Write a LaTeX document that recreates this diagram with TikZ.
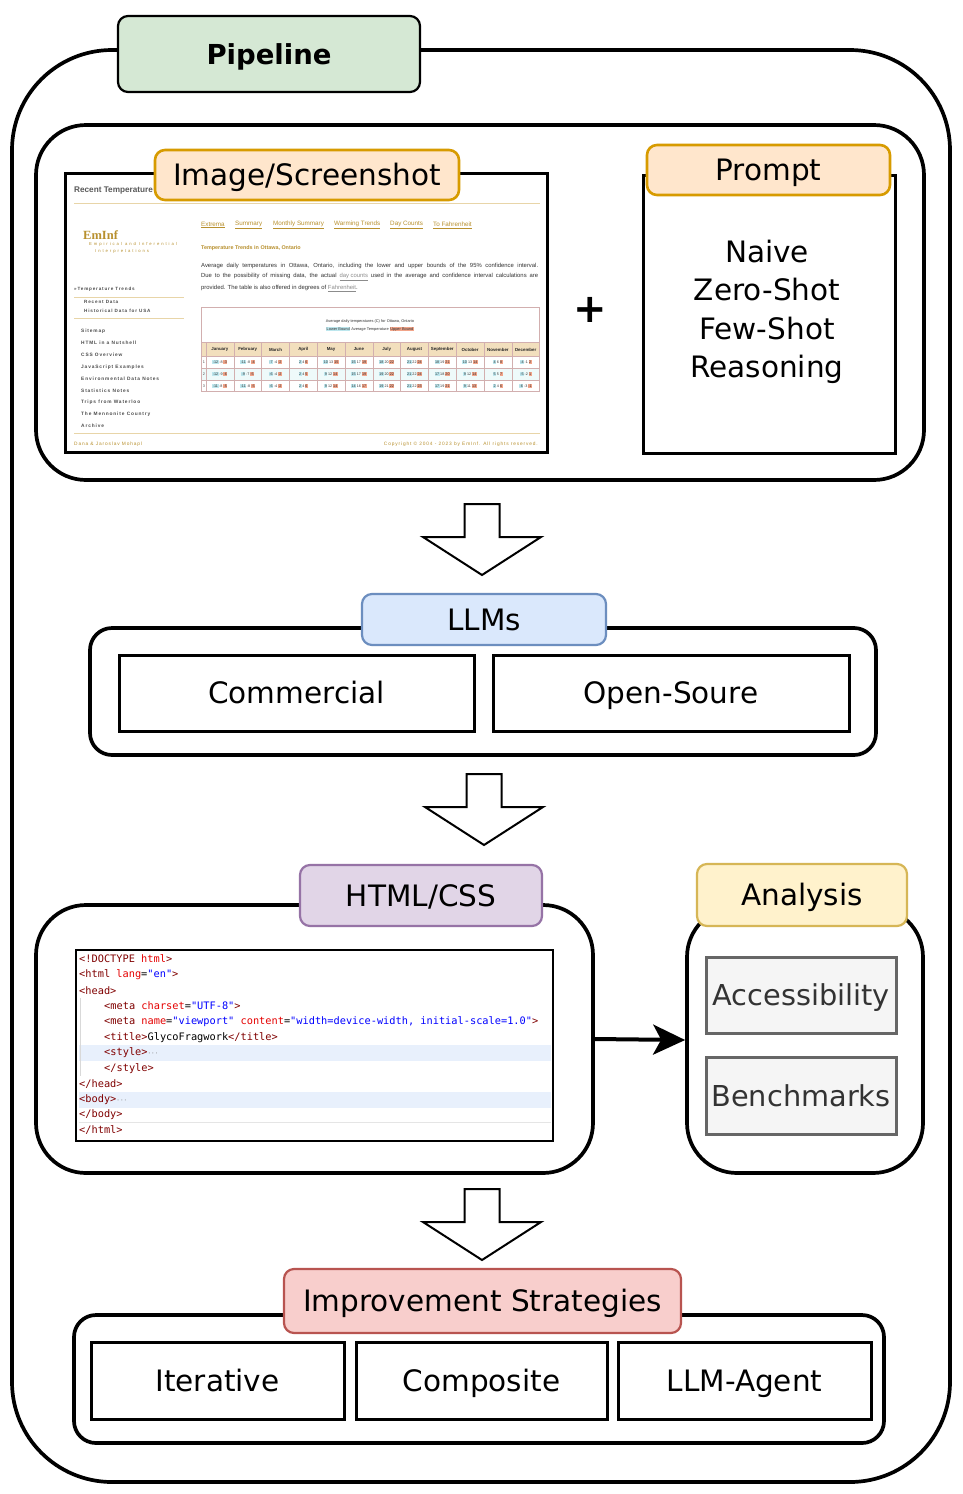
\documentclass[tikz,border=0pt]{standalone}
\usepackage{fontspec}
\setmainfont{DejaVu Sans}
\newfontfamily\shotsans{Liberation Sans}
\newfontfamily\shotspaced[LetterSpace=18]{Liberation Sans}
\newfontfamily\shotwide[LetterSpace=46]{Liberation Sans}
\newfontfamily\shotserif{Liberation Serif}
\newfontfamily\codefont{DejaVu Sans Mono}
\usetikzlibrary{arrows.meta}
\setlength{\fboxsep}{0.5pt}
\definecolor{pipefill}{HTML}{D5E8D4}
\definecolor{orfill}{HTML}{FFE6CC}\definecolor{ordraw}{HTML}{D79B00}
\definecolor{blfill}{HTML}{DAE8FC}\definecolor{bldraw}{HTML}{6C8EBF}
\definecolor{pufill}{HTML}{E1D5E7}\definecolor{pudraw}{HTML}{9673A6}
\definecolor{yefill}{HTML}{FFF2CC}\definecolor{yedraw}{HTML}{D6B656}
\definecolor{refill}{HTML}{F8CECC}\definecolor{redraw}{HTML}{B85450}
\definecolor{grfill}{HTML}{F5F5F5}\definecolor{grdraw}{HTML}{666666}\definecolor{grtext}{HTML}{333333}
\definecolor{gold}{HTML}{B8902E}
\definecolor{tanline}{HTML}{E8D5A8}
\definecolor{tagc}{HTML}{800000}
\definecolor{attrc}{HTML}{E50000}
\definecolor{valc}{HTML}{0000FF}
\definecolor{hl}{HTML}{E8F0FC}
\definecolor{locell}{HTML}{BDE7EE}
\definecolor{hicell}{HTML}{F2A58A}
\definecolor{thead}{HTML}{F2DFBD}
\definecolor{tline}{HTML}{D2AFAF}
\definecolor{rowcyan}{HTML}{EEFAFA}
\newcommand{\ctag}[1]{\textcolor{tagc}{#1}}
\newcommand{\cattr}[1]{\textcolor{attrc}{#1}}
\newcommand{\cval}[1]{\textcolor{valc}{#1}}
\newcommand{\mainlbl}{\fontsize{29.5}{34}\selectfont}
\begin{document}
\begin{tikzpicture}[x=1pt,y=-1pt,
  sz/.style 2 args={minimum width=#1pt, minimum height=#2pt},
  ctn/.style={draw=black, line width=3.7pt, fill=white, inner sep=0pt, rounded corners=#1},
  fixtext/.style={text height=26pt, text depth=5pt},
  plainbox/.style={draw=black, line width=3pt, fill=white, inner sep=0pt, font=\mainlbl, fixtext},
  tagbox/.style={rounded corners=10pt, line width=2.2pt, inner sep=0pt, font=\mainlbl, fixtext},
  grbox/.style={draw=grdraw, fill=grfill, line width=3pt, text=grtext, inner sep=0pt, font=\fontsize{28.8}{34}\selectfont, fixtext},
  blockarr/.style={draw=black, line width=2pt, fill=white, line join=miter},
  codeline/.style={anchor=west, inner sep=0pt, font=\codefont\fontsize{10.3}{12}\selectfont},
  tiny/.style={inner sep=0pt, font=\shotsans\fontsize{#1}{#1}\selectfont},
  tinyb/.style={inner sep=0pt, font=\shotsans\bfseries\fontsize{#1}{#1}\selectfont},
  spaced/.style={inner sep=0pt, anchor=west, font=\shotspaced\bfseries\fontsize{#1}{#1}\selectfont, text=black!70},
  downarr/.pic={\draw[blockarr] (-17.5,0) -- (17.5,0) -- (17.5,33) -- (59,33) -- (0,71) -- (-59,33) -- (-17.5,33) -- cycle;}
]
\useasboundingbox (0,0) rectangle (962,1494);
\fill[white] (0,0) rectangle (962,1494);

% outer pipeline container
\node[ctn=100pt, sz={938}{1432}] (outer) at (481,766) {};
\node[tagbox, draw=black, fill=pipefill, sz={302}{76}, font=\bfseries\fontsize{27.5}{32}\selectfont] (pipe) at (269,54) {Pipeline};

% top section
\node[ctn=50pt, sz={888}{355}] (top) at (480,302.5) {};
\node[draw=black, line width=3pt, fill=white, sz={482}{279}, inner sep=0pt] (shot) at (306,312.5) {};
\begin{scope}
\clip (67,175) rectangle (545,450);
\node[tinyb=8.2, anchor=west, text=black!65] (sh-head) at (74,190) {Recent Temperature Trends};
\draw[tanline, line width=0.7pt] (74,203) -- (540,203);
\node[inner sep=0pt, anchor=west, text=gold, font=\shotserif\bfseries\fontsize{12.5}{13}\selectfont] (sh-logo) at (83,235) {EmInf};
\node[inner sep=0pt, anchor=west, text=gold, font=\shotwide\fontsize{4.2}{4.5}\selectfont] (sh-sub1) at (89,244.5) {Empirical and Inferential};
\node[inner sep=0pt, anchor=west, text=gold, font=\shotwide\fontsize{4.2}{4.5}\selectfont] (sh-sub2) at (95,251) {Interpretations};
\foreach \t/\xx [count=\k] in {Extrema/201, Summary/235, Monthly Summary/273, Warming Trends/334, Day Counts/390, To Fahrenheit/433}
  \node[tiny=6.3, anchor=west, text=gold] (sh-nav\k) at (\xx,225) {\underline{\t}};
\node[tinyb=5.4, anchor=west, text=gold] (sh-h1) at (201,248) {Temperature Trends in Ottawa, Ontario};
\node[tiny=5.9, anchor=west, text=black!80] (sh-p1) at (201,265.5) {\makebox[337pt][s]{Average daily temperatures in Ottawa, Ontario, including the lower and upper bounds of the 95\% confidence interval.}};
\node[tiny=5.9, anchor=west, text=black!80] (sh-p2) at (201,277) {\makebox[337pt][s]{Due to the possibility of missing data, the actual \textcolor{black!45}{\underline{day counts}} used in the average and confidence interval calculations are}};
\node[tiny=5.9, anchor=west, text=black!80] (sh-p3) at (201,288.5) {provided. The table is also offered in degrees of \textcolor{black!45}{\underline{Fahrenheit}}.};
% table
\draw[tline, line width=0.6pt] (201.5,307) rectangle (539.5,391.5);
\node[tiny=3.9, text=black!80] (sh-cap) at (370,321) {Average daily temperatures (C) for Ottawa, Ontario};
\node[tiny=3.9, text=black!80] (sh-leg) at (370,329) {\colorbox{locell}{Lower Bound} Average Temperature \colorbox{hicell}{Upper Bound}};
\fill[thead] (201.5,342.5) rectangle (539.5,356);
\fill[rowcyan] (201.5,368) rectangle (539.5,380);
\foreach \yy in {342.5,356,368,380} \draw[tline, line width=0.5pt] (201.5,\yy) -- (539.5,\yy);
\foreach \i in {0,...,12} \draw[tline, line width=0.5pt] ({206+\i*27.8},342.5) -- ({206+\i*27.8},391.5);
\foreach \m [count=\i] in {January,February,March,April,May,June,July,August,September,October,November,December}
  \node[tinyb=4.4, text=black!85] (sh-m\i) at ({206+(\i-0.5)*27.8},349.5) {\m};
\foreach \r/\yy in {1/362,2/374,3/386}
  \node[tiny=3.8, text=black!70] (sh-r\r) at (204,\yy) {\r};
\foreach \lo/\av/\hi [count=\i] in {-12/-8/-3,-11/-8/-4,-7/-4/-2,2/4/6,10/13/15,15/17/19,18/20/22,21/22/24,18/19/21,10/13/14,4/6/8,-4/-1/2}
  \node[tiny=3.7, text=black!80] (sh-a\i) at ({206+(\i-0.5)*27.8},362) {\colorbox{locell}{\lo}\,\av\,\colorbox{hicell}{\hi}};
\foreach \lo/\av/\hi [count=\i] in {-12/-9/-6,-9/-7/-5,-6/-4/-2,2/4/5,9/12/14,15/17/19,19/20/22,21/22/24,17/18/20,9/12/14,5/5/7,-5/-2/1}
  \node[tiny=3.7, text=black!80] (sh-b\i) at ({206+(\i-0.5)*27.8},374) {\colorbox{locell}{\lo}\,\av\,\colorbox{hicell}{\hi}};
\foreach \lo/\av/\hi [count=\i] in {-11/-8/-5,-11/-8/-5,-6/-4/-2,2/4/6,9/12/14,14/16/17,19/21/22,21/22/23,17/19/21,9/11/13,2/4/6,-6/-3/-1}
  \node[tiny=3.7, text=black!80] (sh-c\i) at ({206+(\i-0.5)*27.8},386) {\colorbox{locell}{\lo}\,\av\,\colorbox{hicell}{\hi}};
% sidebar
\node[spaced=4.6] (sh-s0) at (74,289) {»Temperature Trends};
\draw[tanline, line width=0.7pt] (74,297.5) -- (184,297.5);
\node[spaced=4.6] (sh-s1) at (84,302) {Recent Data};
\node[spaced=4.6] (sh-s2) at (84,311) {Historical Data for USA};
\draw[tanline, line width=0.7pt] (74,318) -- (184,318);
\foreach \t/\yy [count=\k] in {Sitemap/331, HTML in a Nutshell/343, CSS Overview/355, JavaScript Examples/367, Environmental Data Notes/379, Statistics Notes/391, Trips from Waterloo/402.7, The Mennonite Country/414.3, Archive/426}
  \node[spaced=4.8] (sh-side\k) at (81,\yy) {\t};
% footer
\draw[tanline, line width=0.7pt] (74,433) -- (540,433);
\node[inner sep=0pt, anchor=west, text=gold, font=\shotspaced\fontsize{4.8}{5}\selectfont] (sh-f1) at (74,444) {Dana \& Jaroslav Mohapl};
\node[inner sep=0pt, anchor=east, text=gold, font=\shotspaced\fontsize{4.8}{5}\selectfont] (sh-f2) at (538,444) {Copyright © 2004 - 2023 by EmInf. All rights reserved.};
\end{scope}
\node[tagbox, draw=ordraw, fill=orfill, line width=2.6pt, sz={304}{50}] (imglbl) at (307,175) {Image/Screenshot};

\node[font=\bfseries\fontsize{40}{40}\selectfont] (plus) at (590,310) {+};

\node[plainbox, sz={252}{278}] (prompt) at (769,314) {};
\node[align=center, inner sep=0pt, font=\fontsize{29.5}{38.5}\selectfont] (ptext) at (767,312) {Naive\\Zero-Shot\\Few-Shot\\Reasoning};
\node[tagbox, draw=ordraw, fill=orfill, line width=2.6pt, sz={243}{50}] (plbl) at (768.5,170) {Prompt};

% arrow 1
\pic at (482,504) {downarr};

% LLMs
\node[ctn=22pt, sz={786}{127}] (llmc) at (483,691.5) {};
\node[plainbox, sz={355}{76}] (comm) at (296.5,693) {Commercial};
\node[plainbox, sz={356}{76}] (open) at (671,693) {Open-Soure};
\node[tagbox, draw=bldraw, fill=blfill, sz={244}{51}] (llmlbl) at (484,619.5) {LLMs};

% arrow 2
\pic at (484,774) {downarr};

% HTML/CSS
\node[ctn=50pt, sz={557}{268}] (htmlc) at (314.5,1039) {};
\node[draw=black, line width=2.5pt, fill=white, sz={477}{191}, inner sep=0pt] (code) at (314.5,1045.5) {};
\fill[hl] (78.5,1045) rectangle (551,1061);
\fill[hl] (78.5,1092) rectangle (551,1107.5);
\draw[black!15, line width=0.6pt] (80,998) -- (80,1076);
\draw[black!10, line width=0.6pt] (78.5,1122.5) -- (551,1122.5);
\node[codeline] (c1) at (79,959) {\ctag{<!DOCTYPE} \cattr{html}\ctag{>}};
\node[codeline] (c2) at (79,974.5) {\ctag{<html} \cattr{lang}=\cval{"en"}\ctag{>}};
\node[codeline] (c3) at (79,990.5) {\ctag{<head>}};
\node[codeline] (c4) at (104,1006) {\ctag{<meta} \cattr{charset}=\cval{"UTF-8"}\ctag{>}};
\node[codeline] (c5) at (104,1021.5) {\ctag{<meta} \cattr{name}=\cval{"viewport"} \cattr{content}=\cval{"width=device-width, initial-scale=1.0"}\ctag{>}};
\node[codeline] (c6) at (104,1037.5) {\ctag{<title>}GlycoFragwork\ctag{</title>}};
\node[codeline] (c7) at (104,1053) {\ctag{<style>}\textcolor{black!50}{\fontsize{6}{6}\selectfont···}};
\node[codeline] (c8) at (104,1068.5) {\ctag{</style>}};
\node[codeline] (c9) at (79,1084) {\ctag{</head>}};
\node[codeline] (c10) at (79,1099.5) {\ctag{<body>}\textcolor{black!50}{\fontsize{6}{6}\selectfont···}};
\node[codeline] (c11) at (79,1115) {\ctag{</body>}};
\node[codeline] (c12) at (79,1130) {\ctag{</html>}};
\node[tagbox, draw=pudraw, fill=pufill, sz={242}{61}] (htmllbl) at (421,895.5) {HTML/CSS};

% Analysis
\node[ctn=50pt, sz={236}{266}] (anac) at (805,1040) {};
\node[tagbox, draw=yedraw, fill=yefill, sz={210}{62}] (analbl) at (802,895) {Analysis};
\node[grbox, sz={190}{76}] (acc) at (801,995) {Accessibility};
\node[grbox, sz={190}{77}] (bench) at (801,1095.5) {Benchmarks};

\draw[line width=4pt, -{Stealth[length=32pt, width=30pt, inset=8pt]}] (htmlc.east) -- (anac.west);

% arrow 3
\pic at (482,1189) {downarr};

% Improvement strategies
\node[ctn=22pt, sz={810}{128}] (imprc) at (479,1379) {};
\node[plainbox, sz={253}{77}] (iter) at (217.5,1380.5) {Iterative};
\node[plainbox, sz={251}{77}] (comp) at (481.5,1380.5) {Composite};
\node[plainbox, sz={253}{77}] (agent) at (744.5,1380.5) {LLM-Agent};
\node[tagbox, draw=redraw, fill=refill, sz={397}{64}] (imprlbl) at (482.5,1301) {Improvement Strategies};
\end{tikzpicture}
\end{document}
